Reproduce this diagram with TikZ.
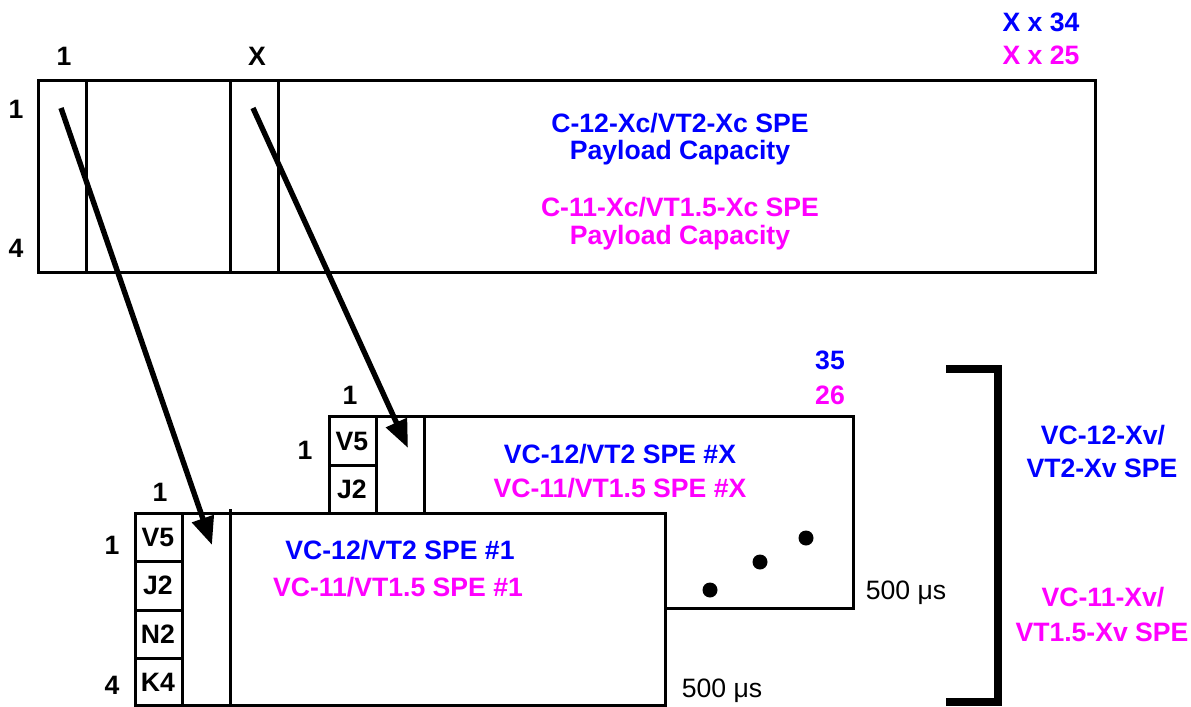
\documentclass[tikz,border=0pt]{standalone}
\usepackage{fontspec}
\setmainfont{Liberation Sans}
\usetikzlibrary{arrows.meta}
\definecolor{cblue}{RGB}{0,0,255}
\definecolor{cmag}{RGB}{255,0,255}
\begin{document}
\begin{tikzpicture}[x=0.5pt,y=-0.5pt,
  box/.style={draw=black,line width=1.5pt},
  lbl/.style={font=\bfseries\fontsize{13.3}{15}\selectfont, inner sep=0pt, text height=9.5pt, text depth=0pt},
  bl/.style={lbl,text=cblue},
  mg/.style={lbl,text=cmag},
  rg/.style={font=\fontsize{13.3}{15}\selectfont, inner sep=0pt, text height=9.5pt, text depth=0pt},
  arr/.style={line width=2.7pt,-{Triangle[length=14pt,width=11pt]}},
  dot/.style={circle,fill=black,minimum size=7.5pt,inner sep=0pt}]
\useasboundingbox (0,0) rectangle (1191,707);

% top box
\draw[box] (38,80) rectangle (1095,272);
\draw[box] (86,80) -- (86,272);
\draw[box] (230,80) -- (230,272);
\draw[box] (278,80) -- (278,272);
\node[lbl] (t1) at (64,56) {1};
\node[lbl] (tx) at (257,56) {X};
\node[lbl] (r1) at (16,109) {1};
\node[lbl] (r4) at (16,248) {4};
\node[bl] (x34) at (1041,22) {X x 34};
\node[mg] (x25) at (1041,55) {X x 25};
\node[bl] (c12a) at (680,123) {C-12-Xc/VT2-Xc SPE};
\node[bl] (c12b) at (680,150) {Payload Capacity};
\node[mg] (c11a) at (680,207) {C-11-Xc/VT1.5-Xc SPE};
\node[mg] (c11b) at (680,235) {Payload Capacity};

% back box
\draw[box,fill=white] (329,416) rectangle (853,608);
\draw[box] (376,416) -- (376,608);
\draw[box] (424,416) -- (424,608);
\draw[box] (329,465) -- (376,465);
\node[lbl] (bv5) at (352,441) {V5};
\node[lbl] (bj2) at (352,489) {J2};
\node[lbl] (b1t) at (350,395) {1};
\node[lbl] (b1l) at (305,450) {1};
\node[bl] (b35) at (830,360) {35};
\node[mg] (b26) at (830,395) {26};
\node[bl] (bxa) at (620,454) {VC-12/VT2 SPE \#X};
\node[mg] (bxb) at (620,488) {VC-11/VT1.5 SPE \#X};
\node[dot] (d1) at (710,590) {};
\node[dot] (d2) at (760,562) {};
\node[dot] (d3) at (806,538) {};
\node[rg] (us2) at (906,590) {500 μs};

% front box
\draw[box,fill=white] (135,513) rectangle (665,705);
\draw[box] (182,513) -- (182,705);
\draw[box] (230,509) -- (230,705);
\draw[box] (135,561) -- (182,561);
\draw[box] (135,610) -- (182,610);
\draw[box] (135,658) -- (182,658);
\node[lbl] (fv5) at (158,537) {V5};
\node[lbl] (fj2) at (158,585) {J2};
\node[lbl] (fn2) at (158,634) {N2};
\node[lbl] (fk4) at (158,682) {K4};
\node[lbl] (f1t) at (160,492) {1};
\node[lbl] (f1l) at (112,545) {1};
\node[lbl] (f4l) at (112,685) {4};
\node[bl] (fxa) at (400,550) {VC-12/VT2 SPE \#1};
\node[mg] (fxb) at (398,587) {VC-11/VT1.5 SPE \#1};
\node[rg] (us1) at (722,688) {500 μs};

% arrows
\coordinate (a1s) at (61,108);
\coordinate (a1e) at (212,545);
\coordinate (a2s) at (253,108);
\coordinate (a2e) at (408,448);
\draw[arr] (a1s) -- (a1e);
\draw[arr] (a2s) -- (a2e);

% bracket
\coordinate (k1) at (946,369);
\coordinate (k2) at (998,369);
\coordinate (k3) at (998,702);
\coordinate (k4) at (946,702);
\draw[line width=3.75pt] (k1) -- (k2) -- (k3) -- (k4);
\node[bl] (va) at (1103,435) {VC-12-Xv/};
\node[bl] (vb) at (1102,468) {VT2-Xv SPE};
\node[mg] (vc) at (1103,597) {VC-11-Xv/};
\node[mg] (vd) at (1102,632) {VT1.5-Xv SPE};
\end{tikzpicture}
\end{document}
